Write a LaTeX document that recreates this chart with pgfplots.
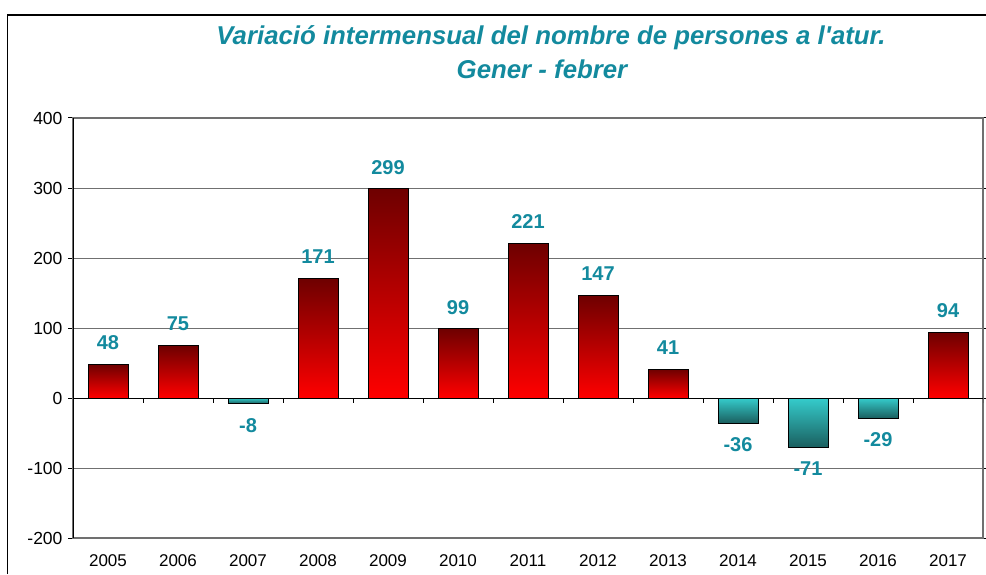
\documentclass[border=0pt]{standalone}
\usepackage{fontspec}
\setmainfont{Liberation Sans}
\usepackage{pgfplots}
\pgfplotsset{compat=1.18}
\definecolor{titc}{HTML}{138A9E}
\definecolor{gridc}{HTML}{707070}
\definecolor{redtop}{HTML}{6E0000}
\definecolor{redmid}{HTML}{C00000}
\definecolor{redbot}{HTML}{FF0000}
\definecolor{tealtop}{HTML}{35CCCC}
\definecolor{tealbot}{HTML}{1A5E5E}
\pgfplotsset{
  posbar/.style={ybar, bar width=40pt, bar shift=0pt, draw=black, line width=1pt,
    top color=redtop, middle color=redmid, bottom color=redbot},
  negbar/.style={ybar, bar width=40pt, bar shift=0pt, draw=black, line width=1pt,
    top color=tealtop, bottom color=tealbot},
}

\begin{document}
\begin{tikzpicture}
% outer frame (cropped chart area)
\draw[line width=1.5pt] (7.5pt,0pt) -- (7.5pt,559pt) -- (986pt,559pt);
% title
\node[font=\fontsize{25.8}{25.8}\selectfont\bfseries\itshape, text=titc] at (551pt,536pt)
  {Variació intermensual del nombre de persones a l\textquotesingle atur.};
\node[font=\fontsize{25.8}{25.8}\selectfont\bfseries\itshape, text=titc] at (542pt,505pt)
  {Gener - febrer};

\begin{axis}[
  at={(73pt,36pt)}, anchor=south west,
  scale only axis, width=910pt, height=420pt,
  xmin=-0.5, xmax=12.5, ymin=-200, ymax=400,
  xtick={0,...,12},
  xticklabels={2005,2006,2007,2008,2009,2010,2011,2012,2013,2014,2015,2016,2017},
  xtick style={draw=none},
  xticklabel style={font=\fontsize{17}{17}\selectfont, yshift=-8pt},
  ytick={-200,-100,0,100,200,300,400},
  yticklabels={-200,-100,0,100,200,300,400},
  yticklabel style={font=\fontsize{17.5}{17.5}\selectfont, xshift=-2pt},
  ytick style={draw=black, line width=1pt},
  tick align=outside, major tick length=5pt,
  ymajorgrids, grid style={draw=gridc, line width=1pt},
  axis line style={draw=gridc, line width=1.5pt},
  /pgf/number format/assume math mode=true,
  nodes near coords, nodes near coords align={vertical},
  every node near coord/.append style={font=\fontsize{20}{20}\selectfont\bfseries,
    text=titc, inner ysep=14pt},
]
\addplot[posbar] coordinates {(0,48)};
\addplot[posbar] coordinates {(1,75)};
\addplot[negbar] coordinates {(2,-8)};
\addplot[posbar] coordinates {(3,171)};
\addplot[posbar] coordinates {(4,299)};
\addplot[posbar] coordinates {(5,99)};
\addplot[posbar] coordinates {(6,221)};
\addplot[posbar] coordinates {(7,147)};
\addplot[posbar] coordinates {(8,41)};
\addplot[negbar] coordinates {(9,-36)};
\addplot[negbar] coordinates {(10,-71)};
\addplot[negbar] coordinates {(11,-29)};
\addplot[posbar] coordinates {(12,94)};
% zero line and category separators
\draw[black, line width=1pt] (axis cs:-0.5,0) -- (axis cs:12.5,0);
\pgfplotsinvokeforeach{-0.5,0.5,1.5,2.5,3.5,4.5,5.5,6.5,7.5,8.5,9.5,10.5,11.5,12.5}{
  \draw[black, line width=1pt] (axis cs:#1,0) -- ++(0pt,-5pt);
}
\draw[black, line width=1.5pt] (rel axis cs:0,0) -- (rel axis cs:0,1);
\end{axis}
\pgfresetboundingbox
\useasboundingbox (0pt,0pt) rectangle (986pt,574pt);
\end{tikzpicture}
\end{document}
